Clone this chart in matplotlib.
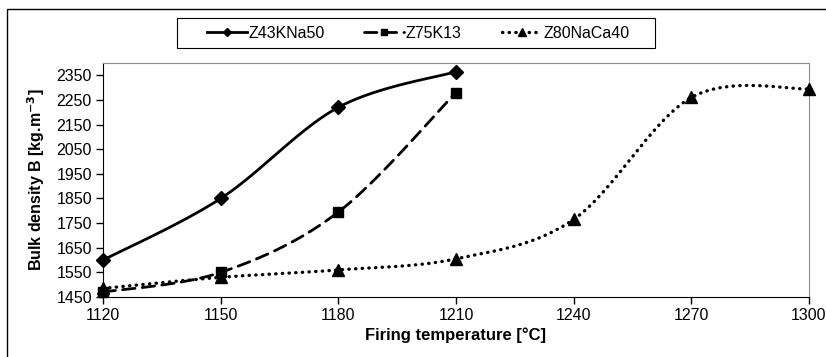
#! /usr/bin/python

"""
================================================================================
Title:    plot

Overview: Bulk density vs. firing temperature for three ceramic bodies
          (Excel-style smoothed lines, categorical x axis).
================================================================================
"""

# LIBRARIES
import matplotlib as mpl
mpl.use("Agg")
import matplotlib.pyplot as plt
import matplotlib.patches as patches
import numpy as np


# DATA
temperatures = ["1120", "1150", "1180", "1210", "1240", "1270", "1300"]

z43kna50 = [1600, 1850, 2220, 2365]
z75k13 = [1470, 1550, 1795, 2280]
z80naca40 = [1485, 1530, 1560, 1605, 1765, 2260, 2295]

y_ticks = [1450, 1550, 1650, 1750, 1850, 1950, 2050, 2150, 2250, 2350]



def smooth(x, y, n = 40):

    """
    ============================================================================
    SMOOTH
    ============================================================================

    Excel-like smoothed line: cubic Bezier segments whose control points are
    taken from neighbouring points (Catmull-Rom, 1/6 rule).
    """

    x = np.asarray(x, dtype = float)
    y = np.asarray(y, dtype = float)
    P = np.column_stack([x, y])
    N = len(P)
    out = []

    for i in range(N - 1):
        p0 = P[max(i - 1, 0)]
        p1 = P[i]
        p2 = P[i + 1]
        p3 = P[min(i + 2, N - 1)]
        c1 = p1 + (p2 - p0) / 6.0
        c2 = p2 - (p3 - p1) / 6.0
        t = np.linspace(0, 1, n)[:, None]
        seg = ((1 - t)**3 * p1 + 3 * (1 - t)**2 * t * c1 +
               3 * (1 - t) * t**2 * c2 + t**3 * p2)
        out.append(seg if i == 0 else seg[1:])

    out = np.vstack(out)

    return out[:, 0], out[:, 1]



def plotDensity():

    """
    ============================================================================
    PLOTDENSITY
    ============================================================================
    """

    # Initialize plot
    mpl.rc("font", size = 11, family = ["Liberation Sans", "DejaVu Sans"])
    fig = plt.figure(figsize = (8.26, 3.57), dpi = 100)
    ax = fig.add_axes([0.1247, 0.168, 0.8547, 0.6555])

    # Outer chart border
    fig.patches.append(patches.Rectangle((7 / 826., -0.01), 1.0, 1 - 9 / 357. + 0.01,
        transform = fig.transFigure, fill = False, ec = "black", lw = 1.0))

    # Legend frame (drawn by hand, Excel pads it a lot)
    fig.patches.append(patches.Rectangle((177 / 826., 1 - 48 / 357.),
        478 / 826., 30 / 357., transform = fig.transFigure, fill = False,
        ec = "black", lw = 0.8))

    series = [
        (z43kna50, "-", 2.0, "D", 7.5, "Z43KNa50"),
        (z75k13, (0, (4.5, 2.6)), 2.0, "s", 7.5, "Z75K13"),
        (z80naca40, (0, (0.1, 1.9)), 2.4, "^", 8.5, "Z80NaCa40"),
    ]

    for values, ls, lw, marker, ms, label in series:
        x = np.arange(len(values))
        xs, ys = smooth(x, values)
        ax.plot(xs, ys, ls = ls, lw = lw, c = "black",
                dash_capstyle = "round", solid_capstyle = "butt",
                clip_on = False, zorder = 3)
        ax.plot(x, values, ls = "none", marker = marker, ms = ms, c = "black",
                clip_on = False, zorder = 4)
        # Legend proxy
        ax.plot([], [], ls = ls, lw = lw, c = "black", marker = marker,
                ms = ms * 0.6, dash_capstyle = "round", label = label)

    # Define plot axis
    ax.set_xlim(0, len(temperatures) - 1)
    ax.set_xticks(np.arange(len(temperatures)))
    ax.set_xticklabels(temperatures)
    ax.set_ylim(1450, 2400)
    ax.set_yticks(y_ticks)

    ax.set_xlabel("Firing temperature [°C]", weight = "bold", labelpad = 3,
                  fontsize = 12)
    ax.set_ylabel("Bulk density B [kg.m$^{\\mathbf{-3}}$]", weight = "bold",
                  labelpad = 7, fontsize = 11.5)

    for side in ["top", "right"]:
        ax.spines[side].set_color("#8c8c8c")
    for side in ["left", "bottom"]:
        ax.spines[side].set_color("black")
    ax.tick_params(direction = "out", length = 5, width = 1, pad = 3,
                   labelsize = 11.5)

    # Define plot legend
    fig.legend(loc = "center", bbox_to_anchor = (418 / 826., 1 - 33 / 357.),
        ncol = 3, frameon = False, handlelength = 2.5, handletextpad = 0.1,
        columnspacing = 2.5, fontsize = 11.5)

    fig.savefig("out.png", dpi = 100)



def main():

    """
    ============================================================================
    MAIN
    ============================================================================
    """

    plotDensity()



# Run this when script is called from terminal
if __name__ == "__main__":
    main()
